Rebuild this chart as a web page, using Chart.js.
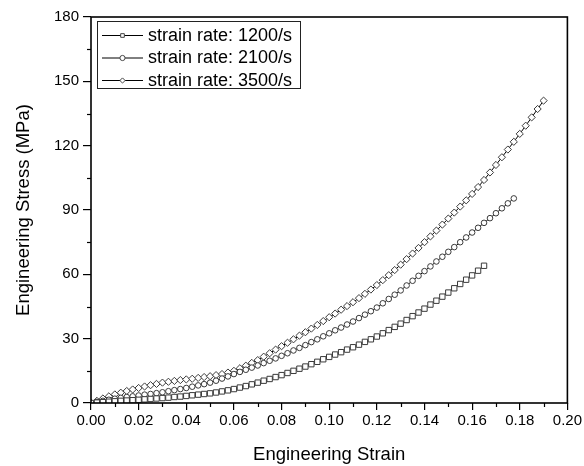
<!DOCTYPE html>
<html>
<head>
<meta charset="utf-8">
<script src="https://cdn.jsdelivr.net/npm/chart.js"></script>
<style>
  html, body { margin: 0; padding: 0; background: #fff; }
  #wrap { width: 584px; height: 466px; }
</style>
</head>
<body>
<div id="wrap"><canvas id="myChart" width="584" height="466"></canvas></div>
<script>
// engineering strain, shared by all three tests
const strain = [
    0, 0.0025, 0.005, 0.0075, 0.01, 0.0125, 0.015, 0.0175, 0.02, 0.0225,
    0.025, 0.0275, 0.03, 0.0325, 0.035, 0.0375, 0.04, 0.0425, 0.045, 0.0475,
    0.05, 0.0525, 0.055, 0.0575, 0.06, 0.0625, 0.065, 0.0675, 0.07, 0.0725,
    0.075, 0.0775, 0.08, 0.0825, 0.085, 0.0875, 0.09, 0.0925, 0.095, 0.0975,
    0.1, 0.1025, 0.105, 0.1075, 0.11, 0.1125, 0.115, 0.1175, 0.12, 0.1225,
    0.125, 0.1275, 0.13, 0.1325, 0.135, 0.1375, 0.14, 0.1425, 0.145, 0.1475,
    0.15, 0.1525, 0.155, 0.1575, 0.16, 0.1625, 0.165, 0.1675, 0.17, 0.1725,
    0.175, 0.1775, 0.18, 0.1825, 0.185, 0.1875, 0.19
];

// engineering stress (MPa)
const stress1200 = [
    0, 0.2, 0.4, 0.6, 0.8, 1.0, 1.15, 1.3, 1.5, 1.7,
    1.9, 2.1, 2.3, 2.5, 2.8, 3.0, 3.3, 3.6, 3.9, 4.2,
    4.5, 4.9, 5.4, 5.9, 6.5, 7.2, 7.9, 8.7, 9.5, 10.4,
    11.2, 12.1, 13.0, 14.0, 15.0, 16.0, 17.0, 18.1, 19.2, 20.4,
    21.5, 22.6, 23.7, 24.9, 26.0, 27.2, 28.5, 29.7, 31.0, 32.5,
    34.0, 35.5, 37.0, 38.7, 40.5, 42.2, 44.0, 45.9, 47.7, 49.6,
    51.5, 53.5, 55.5, 57.5, 59.5, 61.7, 64.0
];
const stress2100 = [
    0, 0.5, 1.0, 1.5, 2.0, 2.4, 2.8, 3.1, 3.5, 3.9,
    4.2, 4.6, 5.0, 5.5, 6.0, 6.5, 7.0, 7.6, 8.2, 8.8,
    9.5, 10.4, 11.4, 12.4, 13.5, 14.5, 15.5, 16.5, 17.5, 18.6,
    19.7, 20.8, 22.0, 23.2, 24.5, 25.7, 27.0, 28.4, 29.7, 31.1,
    32.5, 33.9, 35.2, 36.6, 38.0, 39.6, 41.2, 42.8, 44.5, 46.5,
    48.5, 50.5, 52.5, 54.8, 57.0, 59.3, 61.5, 63.7, 66.0, 68.2,
    70.5, 72.7, 75.0, 77.2, 79.5, 81.7, 84.0, 86.2, 88.5, 90.8,
    93.1, 95.4
];
const stress3500 = [
    0, 1.0, 2.1, 3.1, 4.0, 4.8, 5.6, 6.3, 7.0, 7.7,
    8.3, 8.9, 9.5, 9.9, 10.3, 10.7, 11.0, 11.3, 11.7, 12.1,
    12.5, 13.0, 13.5, 14.2, 15.0, 16.2, 17.4, 18.7, 20.0, 21.6,
    23.2, 24.9, 26.5, 28.1, 29.7, 31.4, 33.0, 34.7, 36.4, 38.2,
    40.0, 41.7, 43.5, 45.2, 47.0, 48.9, 50.9, 52.9, 55.0, 57.3,
    59.6, 62.0, 64.5, 67.1, 69.7, 72.3, 75.0, 77.7, 80.4, 83.2,
    86.0, 88.8, 91.6, 94.5, 97.5, 100.7, 104.0, 107.5, 111.0, 114.6,
    118.2, 121.8, 125.5, 129.3, 133.2, 137.1, 141.0
];

const seriesLabels = ["strain rate: 1200/s", "strain rate: 2100/s", "strain rate: 3500/s"];
const seriesStress = [stress1200, stress2100, stress3500];
const markerStyles = ["rect", "circle", "rectRot"];
const markerSizes = [3.8, 2.8, 3.6];

const FONT = "'Liberation Sans', Arial, sans-serif";

function toPoints(ys) {
    return ys.map(function (y, i) {
        return { x: strain[i], y: y };
    });
}

// draws one marker shape (used for the legend samples)
function marker(ctx, style, x, y, r) {
    ctx.beginPath();
    if (style === "rect") {
        const s = r * Math.SQRT1_2;
        ctx.rect(x - s, y - s, 2 * s, 2 * s);
    } else if (style === "rectRot") {
        ctx.moveTo(x, y - r);
        ctx.lineTo(x + r, y);
        ctx.lineTo(x, y + r);
        ctx.lineTo(x - r, y);
        ctx.closePath();
    } else {
        ctx.arc(x, y, r, 0, Math.PI * 2);
    }
    ctx.fillStyle = "#fff";
    ctx.fill();
    ctx.stroke();
}

// frame, minor ticks and the boxed legend
const framePlugin = {
    id: "frame",
    afterDraw: function (chart) {
        const ctx = chart.ctx;
        const a = chart.chartArea;
        const xs = chart.scales.x;
        const ys = chart.scales.y;
        ctx.save();
        ctx.strokeStyle = "#000";

        ctx.lineWidth = 1.2;
        for (let v = 0.01; v < 0.2; v += 0.02) {
            const px = Math.round(xs.getPixelForValue(v)) + 0.5;
            ctx.beginPath();
            ctx.moveTo(px, a.bottom);
            ctx.lineTo(px, a.bottom + 4);
            ctx.stroke();
        }
        for (let v = 15; v < 180; v += 30) {
            const py = Math.round(ys.getPixelForValue(v)) + 0.5;
            ctx.beginPath();
            ctx.moveTo(a.left, py);
            ctx.lineTo(a.left - 4, py);
            ctx.stroke();
        }

        ctx.lineWidth = 1.6;
        ctx.strokeRect(a.left, a.top, a.right - a.left, a.bottom - a.top);

        // legend
        ctx.lineWidth = 1;
        ctx.strokeStyle = "#222";
        ctx.strokeRect(97.5, 21.5, 203, 67);
        ctx.font = "18px " + FONT;
        ctx.textBaseline = "middle";
        ctx.textAlign = "left";
        seriesLabels.forEach(function (label, i) {
            const y = 35 + i * 22.5;
            ctx.strokeStyle = "#000";
            ctx.beginPath();
            ctx.moveTo(102, y + 0.5);
            ctx.lineTo(143, y + 0.5);
            ctx.stroke();
            ctx.strokeStyle = "#444";
            marker(ctx, markerStyles[i], 122.5, y + 0.5, 2.6);
            ctx.fillStyle = "#000";
            ctx.fillText(label, 148, y + 1);
        });
        ctx.restore();
    },
};

const ctx = document.getElementById("myChart");

new Chart(ctx, {
    type: "scatter",
    data: {
        datasets: seriesLabels.map(function (label, i) {
            return {
                label: label,
                data: toPoints(seriesStress[i]),
                showLine: true,
                borderColor: "#000",
                borderWidth: 1,
                pointStyle: markerStyles[i],
                pointRadius: markerSizes[i],
                pointBorderColor: "#3a3a3a",
                pointBorderWidth: 1,
                pointBackgroundColor: "#fff",
                tension: 0,
            };
        }),
    },
    options: {
        responsive: false,
        animation: false,
        devicePixelRatio: 1,
        layout: { padding: { left: 0, right: 15, top: 17, bottom: 0 } },
        plugins: {
            legend: { display: false },
            tooltip: { enabled: false },
        },
        scales: {
            x: {
                type: "linear",
                min: 0,
                max: 0.2,
                afterFit: function (scale) {
                    scale.height = 63;
                },
                ticks: {
                    stepSize: 0.02,
                    padding: 2,
                    color: "#000",
                    font: { family: FONT, size: 15 },
                    maxRotation: 0,
                    callback: function (v) {
                        return v.toFixed(2);
                    },
                },
                grid: {
                    drawOnChartArea: false,
                    drawTicks: true,
                    tickLength: 7,
                    color: "#000",
                    lineWidth: 1.2,
                },
                border: { display: false },
                title: {
                    display: true,
                    text: "Engineering Strain",
                    color: "#000",
                    font: { family: FONT, size: 18.5 },
                    padding: { top: 0, bottom: 0 },
                },
            },
            y: {
                type: "linear",
                min: 0,
                max: 180,
                afterFit: function (scale) {
                    scale.width = 91;
                },
                ticks: {
                    stepSize: 30,
                    padding: 4,
                    color: "#000",
                    font: { family: FONT, size: 15 },
                },
                grid: {
                    drawOnChartArea: false,
                    drawTicks: true,
                    tickLength: 8,
                    color: "#000",
                    lineWidth: 1.2,
                },
                border: { display: false },
                title: {
                    display: true,
                    text: "Engineering Stress (MPa)",
                    color: "#000",
                    font: { family: FONT, size: 18.5 },
                    padding: { top: 13, bottom: 0 },
                },
            },
        },
    },
    plugins: [framePlugin],
});
</script>
</body>
</html>
